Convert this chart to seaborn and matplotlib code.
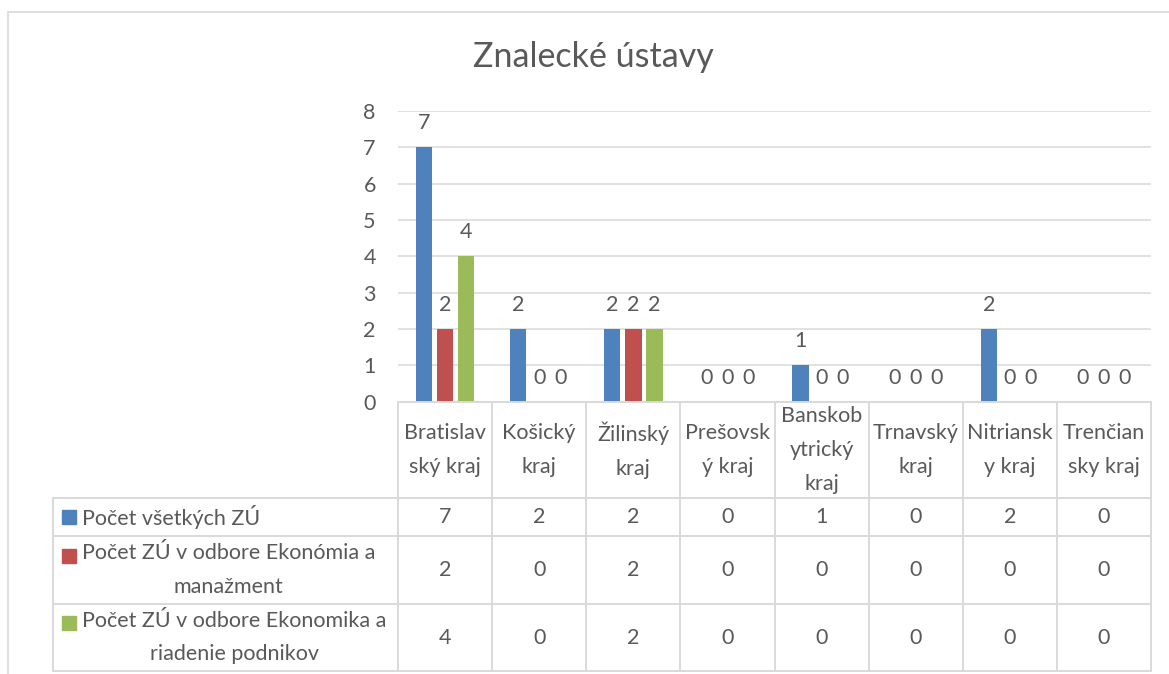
import matplotlib
matplotlib.use("Agg")
import matplotlib.pyplot as plt
from matplotlib.patches import Rectangle
import seaborn as sns
import pandas as pd

# ---------------- data ----------------
kraje = ["Bratislavský kraj", "Košický kraj", "Žilinský kraj", "Prešovský kraj",
         "Banskobystrický kraj", "Trnavský kraj", "Nitriansky kraj", "Trenčiansky kraj"]
kraje_labels = ["Bratislav\nský kraj", "Košický\nkraj", "Žilinský\nkraj", "Prešovsk\ný kraj",
                "Banskob\nytrický\nkraj", "Trnavský\nkraj", "Nitriansk\ny kraj", "Trenčian\nsky kraj"]
serie = ["Počet všetkých ZÚ",
         "Počet ZÚ v odbore Ekonómia a manažment",
         "Počet ZÚ v odbore Ekonomika a riadenie podnikov"]
serie_labels = ["Počet všetkých ZÚ",
                "Počet ZÚ v odbore Ekonómia a\nmanažment",
                "Počet ZÚ v odbore Ekonomika a\nriadenie podnikov"]
vsetky = [7, 2, 2, 0, 1, 0, 2, 0]
ekonomia = [2, 0, 2, 0, 0, 0, 0, 0]
ekonomika = [4, 0, 2, 0, 0, 0, 0, 0]
y_ticks = [0, 1, 2, 3, 4, 5, 6, 7, 8]
title = "Znalecké ústavy"

values = [vsetky, ekonomia, ekonomika]
colors = ["#4F81BD", "#C0504D", "#9BBB59"]

df = pd.DataFrame({
    "kraj": [k for _ in serie for k in kraje],
    "serie": [s for s in serie for _ in kraje],
    "pocet": [v for vals in values for v in vals],
})

# ---------------- style ----------------
sns.set_theme(style="white")
plt.rcParams["font.family"] = ["Lato", "DejaVu Sans"]
TXT = "#595959"
GRID = "#D9D9D9"
FS = 15.5

W, H = 1169, 674
fig = plt.figure(figsize=(W / 100, H / 100), dpi=100)
fig.patch.set_facecolor("white")

# chart outer border (only top/left visible)
fig.add_artist(Rectangle((8 / W, -0.2), 1.5, 1.2 - 12 / H, transform=fig.transFigure,
                         fill=False, ec=GRID, lw=1.2))

# main plot area
ax_l, ax_r, ax_t, ax_b = 398, 1151, 111, 401.7
ax = fig.add_axes([ax_l / W, 1 - ax_b / H, (ax_r - ax_l) / W, (ax_b - ax_t) / H])
sns.barplot(data=df, x="kraj", y="pocet", hue="serie", order=kraje, hue_order=serie,
            palette=colors, width=0.67, gap=0.22, linewidth=0, saturation=1,
            legend=False, ax=ax)
ax.set_xlim(-0.5, len(kraje) - 0.5)
ax.set_ylim(0, 8)
ax.set_yticks(y_ticks)
ax.set_yticklabels([str(t) for t in y_ticks])
ax.set_xticks([])
ax.set_xlabel("")
ax.set_ylabel("")
ax.tick_params(axis="y", length=0, pad=16, labelsize=FS, labelcolor=TXT)
for s in ax.spines.values():
    s.set_visible(False)
ax.yaxis.grid(True, color=GRID, lw=1.1)
ax.set_axisbelow(True)
for cont, vals in zip(ax.containers, values):
    ax.bar_label(cont, labels=[str(v) for v in vals], padding=10, fontsize=FS, color=TXT)

fig.text(593 / W, 1 - 57 / H, title, ha="center", va="center", fontsize=24.5, color=TXT)

# ---------------- data table ----------------
t_l, t_r, t_t, t_b = 53, 1151, 402, 671
col_w = (ax_r - ax_l) / len(kraje)
x_left = -0.5 - (ax_l - t_l) / col_w
tax = fig.add_axes([t_l / W, 1 - t_b / H, (t_r - t_l) / W, (t_b - t_t) / H])
tax.set_xlim(x_left, len(kraje) - 0.5)
tax.set_ylim(t_b, t_t)
tax.axis("off")

rows = [402, 498, 536, 604, 671]
lw_t = 1.4
tax.plot([-0.5, len(kraje) - 0.5], [rows[0], rows[0]], color=GRID, lw=lw_t, clip_on=False)
for r in rows[1:]:
    tax.plot([x_left, len(kraje) - 0.5], [r, r], color=GRID, lw=lw_t, clip_on=False)
tax.plot([x_left, x_left], [rows[1], rows[-1]], color=GRID, lw=lw_t, clip_on=False)
for i in range(len(kraje) + 1):
    tax.plot([i - 0.5, i - 0.5], [rows[0], rows[-1]], color=GRID, lw=lw_t, clip_on=False)

# header
for i, lab in enumerate(kraje_labels):
    tax.text(i, (rows[0] + rows[1]) / 2, lab, ha="center", va="center", fontsize=FS,
             color=TXT, linespacing=1.85)

def px2x(px):
    return x_left + (px - t_l) / col_w

line_gap = 29
for j, (lab, vals, c) in enumerate(zip(serie_labels, values, colors)):
    top, bot = rows[j + 1], rows[j + 2]
    yc = (top + bot) / 2
    nl = lab.count("\n") + 1
    y_first = yc - (nl - 1) * line_gap / 2
    tax.add_patch(Rectangle((px2x(62), y_first - 7), 14 / col_w, 14, color=c, clip_on=False))
    tax.text(px2x(82), yc, lab, ha="left", va="center", multialignment="center",
             fontsize=FS, color=TXT, linespacing=1.85)
    for i, v in enumerate(vals):
        tax.text(i, yc, str(v), ha="center", va="center", fontsize=FS, color=TXT)

fig.savefig("out.png", dpi=100, facecolor="white")
